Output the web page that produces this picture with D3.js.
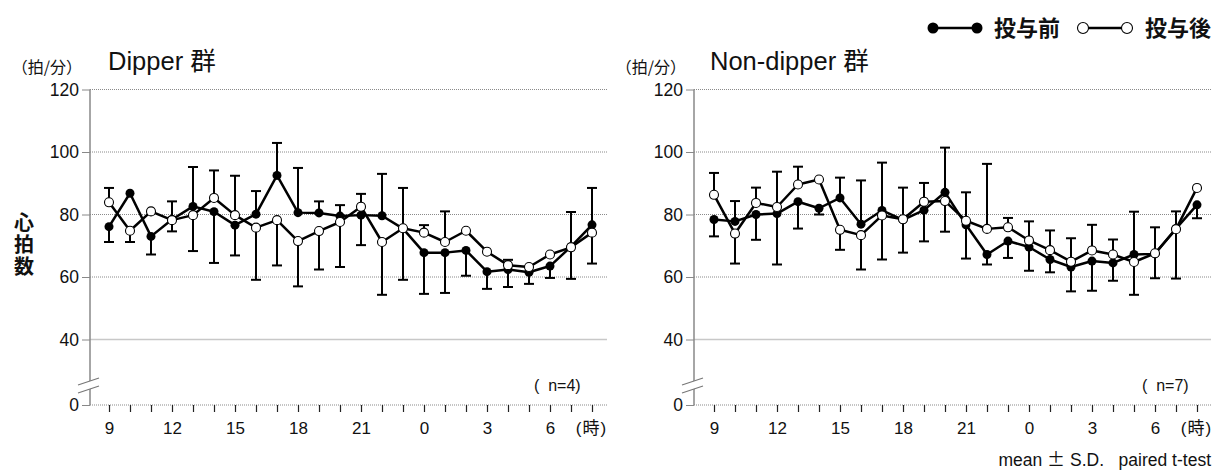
<!DOCTYPE html>
<html>
<head>
<meta charset="utf-8">
<script src="https://cdn.jsdelivr.net/npm/d3@7"></script>
<style>
  body { margin: 0; background: #fff; }
  svg { display: block; font-family: "Liberation Sans", "Noto Sans CJK JP", sans-serif; }
  .jp { font-family: "Noto Sans CJK JP", "Liberation Sans", sans-serif; }
</style>
</head>
<body>
<svg id="chart" width="1215" height="473"></svg>
<script>
// hours along the x axis (index 0 = 9 o'clock ... index 23 = 8 o'clock)
const hours = [9,10,11,12,13,14,15,16,17,18,19,20,21,22,23,0,1,2,3,4,5,6,7,8];
const xLabels = {9:'9', 12:'12', 15:'15', 18:'18', 21:'21', 0:'0', 3:'3', 6:'6'};
const yTicks = [0, 40, 60, 80, 100, 120];

// Dipper group (n=4)
const dipperPre    = [76.1, 86.8, 73.0, 78.4, 82.6, 80.9, 76.6, 80.1, 92.5, 80.6, 80.5, 79.5, 79.8, 79.6, 75.5, 67.8, 67.8, 68.5, 61.7, 62.4, 61.5, 63.5, 69.7, 76.7];
const dipperPreSD  = [4.9, 0.2, 5.8, 5.8, 12.6, 16.4, 9.7, 7.4, 10.4, 14.3, 3.7, 3.5, 9.6, 13.4, 16.4, 13.2, 12.9, 8.1, 5.5, 5.6, 3.7, 3.8, 11.1, 11.8];
const dipperPost   = [83.9, 74.8, 81.0, 78.2, 79.8, 85.3, 79.8, 75.8, 78.2, 71.5, 74.7, 77.6, 82.5, 71.2, 75.6, 74.2, 71.2, 74.8, 68.1, 63.8, 63.2, 67.2, 69.5, 74.2];
const dipperPostSD = [4.6, 3.6, 0.2, 3.6, 11.5, 8.8, 12.6, 16.7, 14.5, 14.5, 12.3, 14.4, 4.1, 16.9, 12.9, 2.4, 9.8, 0.2, 0.2, 1.7, 0.2, 0.2, 10.1, 9.9];

// Non-dipper group (n=7)
const nonPre    = [78.4, 77.8, 80.0, 80.3, 84.1, 82.0, 85.3, 76.9, 81.3, 78.3, 81.4, 87.1, 76.7, 67.2, 71.5, 69.6, 65.6, 63.2, 65.1, 64.5, 67.2, 67.4, 75.5, 83.1];
const nonPreSD  = [5.4, 6.5, 8.1, 16.3, 8.6, 2.0, 6.5, 14.0, 15.3, 10.5, 10.0, 14.3, 10.8, 3.2, 5.4, 7.6, 4.1, 7.8, 9.5, 5.7, 13.7, 7.8, 5.5, 4.3];
const nonPost   = [86.3, 73.9, 83.7, 82.4, 89.6, 91.2, 75.1, 73.4, 79.7, 78.5, 84.1, 84.3, 78.0, 75.4, 75.9, 71.7, 68.6, 64.9, 68.5, 67.2, 64.8, 67.6, 75.3, 88.5];
const nonPostSD = [7.0, 9.6, 4.9, 11.3, 5.7, 0.2, 6.4, 11.0, 14.1, 10.1, 6.0, 9.8, 9.1, 20.8, 3.0, 6.1, 6.3, 7.5, 8.2, 4.8, 10.5, 8.3, 15.8, 0.2];

const svg = d3.select('#chart');

const y = d3.scaleLinear().domain([0, 40, 120]).range([405, 339.5, 89.5]);

function drawPanel(opts) {
  const { left, right, first, title, titleX, n, nX, pre, preSD, post, postSD } = opts;
  const g = svg.append('g');
  const x = d3.scaleLinear().domain([0, hours.length - 1]).range([first, first + 21 * (hours.length - 1)]);

  // grid
  g.selectAll('.grid').data([60, 80, 100, 120]).enter().append('line')
    .attr('x1', left).attr('x2', right)
    .attr('y1', d => y(d)).attr('y2', d => y(d))
    .attr('stroke', '#8a8a8a').attr('stroke-width', 1).attr('stroke-dasharray', '1,1');
  g.append('line')
    .attr('x1', left).attr('x2', right).attr('y1', y(40)).attr('y2', y(40))
    .attr('stroke', '#c8c8c8').attr('stroke-width', 1.5);
  g.append('line')
    .attr('x1', left).attr('x2', right).attr('y1', y(0)).attr('y2', y(0))
    .attr('stroke', '#8a8a8a').attr('stroke-width', 1.2).attr('stroke-dasharray', '1,1');

  // y axis
  const ya = g.append('g').attr('transform', `translate(${left},0)`)
    .call(d3.axisLeft(y).tickValues(yTicks).tickSize(8).tickPadding(3));
  ya.select('.domain').remove();
  ya.selectAll('.tick line').attr('stroke', '#888');
  ya.selectAll('.tick text').attr('font-size', 17.5).attr('fill', '#111')
    .attr('font-family', '"Liberation Sans", sans-serif');
  g.append('line').attr('x1', left).attr('x2', left).attr('y1', y(120)).attr('y2', y(0))
    .attr('stroke', '#888').attr('stroke-width', 1.5);

  // axis break
  const brk = g.append('g');
  brk.append('path')
    .attr('d', `M${left - 12},${385} L${left + 9},${378} L${left + 9},${386} L${left - 12},${393} Z`)
    .attr('fill', '#fff');
  [[385, 378], [393, 386]].forEach(p => {
    brk.append('line').attr('x1', left - 12).attr('y1', p[0]).attr('x2', left + 9).attr('y2', p[1])
      .attr('stroke', '#777').attr('stroke-width', 1.2);
  });

  // x axis
  const xa = g.append('g').attr('transform', `translate(0,${y(0)})`)
    .call(d3.axisBottom(x).tickValues(d3.range(hours.length)).tickSize(7).tickPadding(10)
      .tickFormat(i => i === hours.length - 1 ? '(時)' : (xLabels[hours[i]] || '')));
  xa.select('.domain').remove();
  xa.selectAll('.tick line').attr('stroke', '#222').attr('stroke-width', 1.2);
  xa.selectAll('.tick text').attr('font-size', 17).attr('fill', '#111')
    .attr('font-family', '"Liberation Sans", "Noto Sans CJK JP", sans-serif');
  xa.selectAll('.tick text').filter(i => i === hours.length - 1)
    .style('letter-spacing', '1px').attr('dx', -1);

  // error bars: each series drawn away from the other
  const bars = [];
  hours.forEach((h, i) => {
    const preUp = pre[i] >= post[i];
    bars.push({ i, v: pre[i], e: preUp ? pre[i] + preSD[i] : pre[i] - preSD[i] });
    bars.push({ i, v: post[i], e: preUp ? post[i] - postSD[i] : post[i] + postSD[i] });
  });
  const eb = g.append('g').attr('stroke', '#000').attr('stroke-width', 2);
  eb.selectAll('.stem').data(bars).enter().append('line')
    .attr('x1', d => x(d.i)).attr('x2', d => x(d.i))
    .attr('y1', d => y(d.v)).attr('y2', d => y(d.e));
  eb.selectAll('.cap').data(bars.filter(d => Math.abs(d.e - d.v) > 1)).enter().append('line')
    .attr('x1', d => x(d.i) - 5).attr('x2', d => x(d.i) + 5)
    .attr('y1', d => y(d.e)).attr('y2', d => y(d.e));

  const line = d3.line().x((d, i) => x(i)).y(d => y(d));
  [pre, post].forEach(s => {
    g.append('path').datum(s).attr('d', line)
      .attr('fill', 'none').attr('stroke', '#000').attr('stroke-width', 2.5).attr('stroke-linejoin', 'round');
  });
  g.selectAll('.pre').data(pre).enter().append('circle')
    .attr('cx', (d, i) => x(i)).attr('cy', d => y(d)).attr('r', 4.5).attr('fill', '#000');
  g.selectAll('.post').data(post).enter().append('circle')
    .attr('cx', (d, i) => x(i)).attr('cy', d => y(d)).attr('r', 4.5)
    .attr('fill', '#fff').attr('stroke', '#000').attr('stroke-width', 1.1);

  // labels
  g.append('text').attr('x', titleX).attr('y', 70).attr('font-size', 25.5).attr('fill', '#111')
    .text(title);
  g.append('text').attr('class', 'jp').attr('x', left - 8).attr('y', 73).attr('font-size', 16)
    .attr('text-anchor', 'end').attr('fill', '#111').text('（拍/分）');
  g.append('text').attr('x', nX).attr('y', 391).attr('font-size', 16).attr('fill', '#111')
    .style('white-space', 'pre').text(`(  n=${n})`);
}

drawPanel({ left: 90, right: 607, first: 109, title: 'Dipper 群', titleX: 108, n: 4, nX: 534,
  pre: dipperPre, preSD: dipperPreSD, post: dipperPost, postSD: dipperPostSD });
drawPanel({ left: 694, right: 1211, first: 714, title: 'Non-dipper 群', titleX: 710, n: 7, nX: 1142,
  pre: nonPre, preSD: nonPreSD, post: nonPost, postSD: nonPostSD });

// y axis title (vertical)
svg.append('text').attr('class', 'jp').attr('x', 24).attr('y', 212)
  .attr('font-size', 20).attr('font-weight', 'bold').attr('fill', '#111')
  .style('writing-mode', 'vertical-rl').style('letter-spacing', '2px')
  .text('心拍数');

// legend
const lg = svg.append('g');
lg.append('line').attr('x1', 933).attr('x2', 977).attr('y1', 28).attr('y2', 28)
  .attr('stroke', '#000').attr('stroke-width', 2.5);
lg.selectAll('.lf').data([933, 977]).enter().append('circle')
  .attr('cx', d => d).attr('cy', 28).attr('r', 5.5).attr('fill', '#000');
lg.append('text').attr('class', 'jp').attr('x', 994).attr('y', 36).attr('font-size', 22)
  .attr('font-weight', 'bold').attr('fill', '#111').text('投与前');
lg.append('line').attr('x1', 1083).attr('x2', 1127).attr('y1', 28).attr('y2', 28)
  .attr('stroke', '#000').attr('stroke-width', 2.5);
lg.selectAll('.lo').data([1083, 1127]).enter().append('circle')
  .attr('cx', d => d).attr('cy', 28).attr('r', 5.5).attr('fill', '#fff')
  .attr('stroke', '#000').attr('stroke-width', 1.1);
lg.append('text').attr('class', 'jp').attr('x', 1145).attr('y', 36).attr('font-size', 22)
  .attr('font-weight', 'bold').attr('fill', '#111').text('投与後');

const foot = svg.append('text').attr('x', 1211).attr('y', 466).attr('text-anchor', 'end')
  .attr('font-size', 17.5).attr('fill', '#111').style('white-space', 'pre');
foot.append('tspan').text('mean ');
foot.append('tspan').attr('class', 'jp').attr('font-size', 18).text('±');
foot.append('tspan').text(' S.D.   paired t-test');
</script>
</body>
</html>
